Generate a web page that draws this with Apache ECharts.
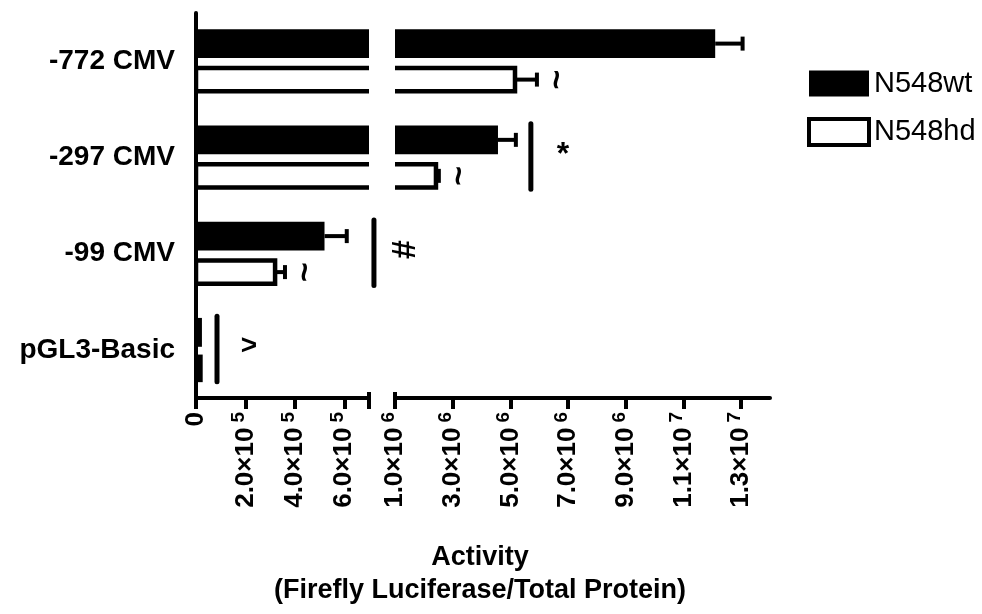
<!DOCTYPE html>
<html>
<head>
<meta charset="utf-8">
<script src="https://cdn.jsdelivr.net/npm/echarts@6/dist/echarts.min.js"></script>
<style>
  html, body { margin: 0; padding: 0; background: #fff; }
  #chart { width: 982px; height: 614px; }
</style>
</head>
<body>
<div id="chart"></div>
<script>
// Promoter constructs (bottom to top on the category axis)
const categories = ['pGL3-Basic', '-99 CMV', '-297 CMV', '-772 CMV'];
// Mean activity and error (SEM) per construct
const wtMean = [2.4e4, 5.2e5, 4.57e6, 1.21e7];
const wtErr  = [0, 9.0e4, 6.2e5, 9.5e5];
const hdMean = [1.8e4, 3.2e5, 2.42e6, 5.16e6];
const hdErr  = [0, 4.0e4, 1.0e5, 7.6e5];
// Broken value axis: low and high segments
const lowRange = [0, 7e5];
const highRange = [1e6, 1.4e7];
const lowTicks = [0, 2e5, 4e5, 6e5];
const highTicks = [1e6, 3e6, 5e6, 7e6, 9e6, 1.1e7, 1.3e7];
// Significance brackets: construct, x position, symbol
const bracketCats = ['-297 CMV', '-99 CMV', 'pGL3-Basic'];
const bracketPos = [5.71e6, 7.2e5, 8.5e4];
const bracketMarks = ['*', '#', '>'];
// Constructs whose N548hd bar carries a "~" mark
const tildeCats = ['-772 CMV', '-297 CMV', '-99 CMV'];

const FONT = "'Liberation Sans', Arial, Helvetica, sans-serif";

function sciLabel(v) {
  if (v === 0) return '{m|0}';
  const exp = Math.floor(Math.log10(v) + 1e-9);
  const mant = (v / Math.pow(10, exp)).toFixed(1);
  return '{m|' + mant + '\u00d710}{e|' + exp + '}';
}
const labelRich = {
  m: { fontSize: 26, fontWeight: 'bold', fontFamily: FONT, color: '#000', lineHeight: 32 },
  e: { fontSize: 19, fontWeight: 'bold', fontFamily: FONT, color: '#000', lineHeight: 20,
       verticalAlign: 'top', padding: [0, 0, 0, 5] }
};

function barRenderer(isWt) {
  return function (params, api) {
    const v = api.value(0), c = api.value(1), e = api.value(2);
    const band = api.size([0, 1])[1];
    const p0 = api.coord([0, c]);
    const p1 = api.coord([v, c]);
    const p2 = api.coord([v + e, c]);
    const cy = p0[1] + (isWt ? -0.182 : 0.192) * band;
    const h = (isWt ? 0.30 : 0.24) * band;
    const children = [{
      type: 'rect',
      shape: { x: p0[0], y: cy - h / 2, width: p1[0] - p0[0], height: h },
      style: isWt ? { fill: '#000' } : { fill: '#fff', stroke: '#000', lineWidth: 4.5 }
    }];
    if (e > 0) {
      children.push({ type: 'line', shape: { x1: p1[0], y1: cy, x2: p2[0], y2: cy },
        style: { stroke: '#000', lineWidth: 4 } });
      children.push({ type: 'line', shape: { x1: p2[0], y1: cy - 7, x2: p2[0], y2: cy + 7 },
        style: { stroke: '#000', lineWidth: 4 } });
    }
    return { type: 'group', children: children };
  };
}

const wtData = wtMean.map((v, i) => [v, i, wtErr[i]]);
const hdData = hdMean.map((v, i) => [v, i, hdErr[i]]);

function valueAxis(gridIndex, range, ticks, tickMarks) {
  return {
    gridIndex: gridIndex, type: 'value', min: range[0], max: range[1], position: 'bottom',
    axisLine: { show: true, lineStyle: { color: '#000', width: 4, cap: 'round' } },
    axisTick: { show: true, customValues: tickMarks, length: 11, lineStyle: { color: '#000', width: 4 } },
    axisLabel: { customValues: ticks, rotate: 90, margin: 14, formatter: sciLabel, rich: labelRich },
    splitLine: { show: false }
  };
}
function capAxis(gridIndex, range, at) {
  return {
    gridIndex: gridIndex, type: 'value', min: range[0], max: range[1], position: 'bottom',
    axisLine: { show: false },
    axisTick: { show: true, inside: true, customValues: [at], length: 6, lineStyle: { color: '#000', width: 4 } },
    axisLabel: { show: false }, splitLine: { show: false }
  };
}

function customSeries(name, isWt, data, gi) {
  return {
    type: 'custom', name: name, xAxisIndex: gi, yAxisIndex: gi, clip: true,
    renderItem: barRenderer(isWt), data: data, encode: { x: 0, y: 1 },
    itemStyle: { color: isWt ? '#000' : '#fff' }, z: 3, silent: true
  };
}

const option = {
  animation: false,
  backgroundColor: '#fff',
  textStyle: { fontFamily: FONT },
  grid: [
    { left: 196, top: 13, width: 173, height: 385 },
    { left: 395, top: 13, width: 375, height: 385 }
  ],
  xAxis: [
    valueAxis(0, lowRange, lowTicks, lowTicks.concat([lowRange[1]])),
    valueAxis(1, highRange, highTicks, highTicks),
    capAxis(0, lowRange, lowRange[1]),
    capAxis(1, highRange, highRange[0])
  ],
  yAxis: [
    {
      gridIndex: 0, type: 'category', data: categories,
      axisLine: { lineStyle: { color: '#000', width: 4 } },
      axisTick: { alignWithLabel: true, length: 14, lineStyle: { color: '#000', width: 4 } },
      axisLabel: { fontSize: 28, fontWeight: 'bold', color: '#000', margin: 21, fontFamily: FONT }
    },
    { gridIndex: 1, type: 'category', data: categories, show: false }
  ],
  legend: {
    orient: 'vertical', left: 807, top: 69, padding: 0, itemWidth: 60, itemHeight: 26, itemGap: 19,
    selectedMode: false,
    textStyle: { fontSize: 29, color: '#000', fontFamily: FONT },
    data: [
      { name: 'N548wt', icon: 'rect', itemStyle: { color: '#000' } },
      { name: 'N548hd', icon: 'rect', itemStyle: { color: '#fff', borderColor: '#000', borderWidth: 4 } }
    ]
  },
  series: [
    customSeries('N548wt', true, wtData, 0),
    customSeries('N548hd', false, hdData, 0),
    customSeries('N548wt', true, wtData, 1),
    customSeries('N548hd', false, hdData, 1)
  ]
};

const chart = echarts.init(document.getElementById('chart'), null, { renderer: 'canvas' });
chart.setOption(option);

// Annotations placed through the axes' own scales
function gridFor(v) { return v < highRange[0] ? 0 : 1; }
const band = Math.abs(chart.convertToPixel({ gridIndex: 0 }, [0, 1])[1] -
                      chart.convertToPixel({ gridIndex: 0 }, [0, 0])[1]);
const graphics = [];
bracketCats.forEach(function (cat, i) {
  const ci = categories.indexOf(cat);
  const p = chart.convertToPixel({ gridIndex: gridFor(bracketPos[i]) }, [bracketPos[i], ci]);
  graphics.push({
    type: 'line', silent: true,
    shape: { x1: p[0], y1: p[1] - 0.35 * band, x2: p[0], y2: p[1] + 0.33 * band },
    style: { stroke: '#000', lineWidth: 5, lineCap: 'round' }
  });
  const mark = bracketMarks[i];
  const size = mark === '>' ? 28 : (mark === '#' ? 34 : 32);
  const dy = mark === '*' ? -2 : -4;
  const el = {
    type: 'text', silent: true, x: p[0] + 32, y: p[1] + dy,
    style: { text: mark, fontSize: size, fontWeight: 'bold', fontFamily: FONT, fill: '#000',
      align: 'center', verticalAlign: 'middle' }
  };
  if (mark === '#') el.rotation = Math.PI / 2;
  graphics.push(el);
});
tildeCats.forEach(function (cat) {
  const ci = categories.indexOf(cat);
  const end = hdMean[ci] + hdErr[ci];
  const p = chart.convertToPixel({ gridIndex: gridFor(end) }, [end, ci]);
  graphics.push({
    type: 'text', silent: true, x: p[0] + 21, y: p[1] + 0.192 * band, rotation: Math.PI / 2,
    style: { text: '~', fontSize: 34, fontWeight: 'bold', fontFamily: FONT, fill: '#000',
      align: 'center', verticalAlign: 'middle' }
  });
});
// Value-axis title
graphics.push({
  type: 'text', silent: true, x: 480, y: 541,
  style: { text: 'Activity\n(Firefly Luciferase/Total Protein)', fontSize: 27, fontWeight: 'bold',
    fontFamily: FONT, fill: '#000', align: 'center', verticalAlign: 'top', lineHeight: 33 }
});
chart.setOption({ graphic: graphics });
</script>
</body>
</html>
